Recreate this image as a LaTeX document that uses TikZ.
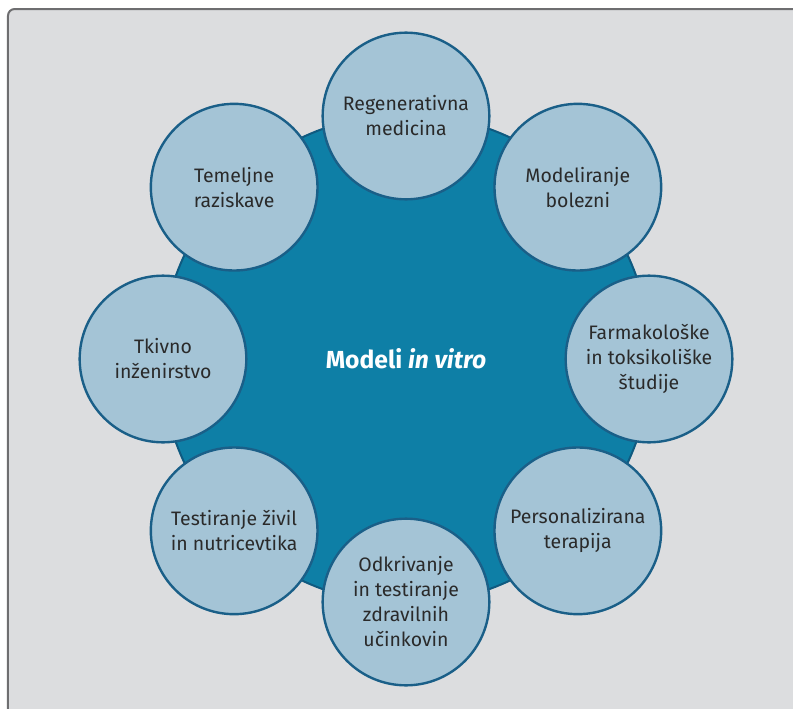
\documentclass[tikz,border=0pt]{standalone}
\usepackage{fontspec}
\setmainfont{Fira Sans}

\definecolor{hubblue}{HTML}{0E7FA6}
\definecolor{hubline}{HTML}{0F5A80}
\definecolor{satfill}{HTML}{A4C4D6}
\definecolor{satline}{HTML}{1A5F88}
\definecolor{panelgray}{HTML}{DCDDDF}
\definecolor{panelline}{HTML}{6E6E70}
\definecolor{labeltext}{HTML}{2A2A2A}

\begin{document}
\begin{tikzpicture}[
  x=0.75pt, y=0.75pt,
  hub/.style       = {circle, draw=hubline, line width=1.5pt, fill=hubblue, minimum size=367pt,
                      text=white, font=\fontsize{18.5}{22}\selectfont\bfseries},
  satellite/.style = {circle, draw=satline, line width=1.8pt, fill=satfill, minimum size=125pt,
                      inner sep=0pt, align=center, text=labeltext,
                      font=\fontsize{14.6}{18.75}\selectfont}
]
  \useasboundingbox (-406,-349) rectangle (387,359);
  % grey panel, runs off the right and bottom edges
  \draw[draw=panelline, fill=panelgray, line width=1.5pt, rounded corners=5pt]
    (-398,350) rectangle (420,-380);

  \node[hub] (hub) at (0,0) {Modeli \textit{in vitro}};

  \node[satellite] (regen)  at (90:243)  {Regenerativna\\medicina};
  \node[satellite] (bolezni) at (45:243) {Modeliranje\\bolezni};
  \node[satellite] (farma)  at (0:243)   {Farmakološke\\in toksikoliške\\študije};
  \node[satellite] (terapija) at (-45:243) {Personalizirana\\terapija};
  \node[satellite] (odkrivanje) at (-90:243) {Odkrivanje\\in testiranje\\zdravilnih\\učinkovin};
  \node[satellite] (zivila) at (-135:243) {Testiranje živil\\in nutricevtika};
  \node[satellite] (tkivno) at (180:243) {Tkivno\\inženirstvo};
  \node[satellite] (temeljne) at (135:243) {Temeljne\\raziskave};
\end{tikzpicture}
\end{document}
